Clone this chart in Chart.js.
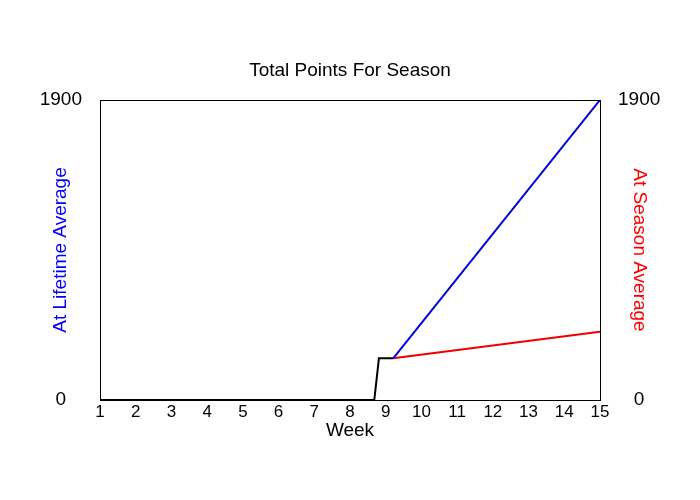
<!DOCTYPE html>
<html>
<head>
<meta charset="utf-8">
<script src="https://cdn.jsdelivr.net/npm/chart.js@4"></script>
<style>
html,body{margin:0;padding:0;background:#fff;}
#wrap{width:700px;height:500px;position:relative;}
</style>
</head>
<body>
<div id="wrap"><canvas id="c"></canvas></div>
<script>
// Data
const actualWeeks = [1, 8.68, 8.81, 9.21];
const actualPoints = [0, 0, 264, 264];
const projWeeks = [9.21, 15];
const lifetimePoints = [264, 1900];
const seasonPoints = [264, 433];
const yTickValues = [0, 1900];
const xMin = 1, xMax = 15;

const toXY = (xs, ys) => xs.map((x, i) => ({x: x, y: ys[i]}));
const FONT = "'Liberation Sans', Arial, sans-serif";

const frame = {
  id: 'frame',
  afterDatasetsDraw(chart) {
    const a = chart.chartArea, ctx = chart.ctx;
    ctx.save();
    ctx.strokeStyle = '#000';
    ctx.lineWidth = 1;
    ctx.strokeRect(Math.round(a.left) + 0.5, Math.round(a.top) + 0.5,
                   Math.round(a.right - a.left), Math.round(a.bottom - a.top));
    ctx.restore();
  }
};

function yAxis(pos, title, color) {
  return {
    type: 'linear', position: pos, min: 0, max: 1900,
    grid: {display: false, drawTicks: false},
    border: {display: false},
    afterBuildTicks: ax => { ax.ticks = yTickValues.map(v => ({value: v})); },
    afterFit: ax => { ax.width = 100; },
    ticks: {
      color: '#000', padding: 18, crossAlign: 'center',
      font: {family: FONT, size: 19},
      callback: v => String(v)
    },
    title: {
      display: true, text: title, color: color,
      font: {family: FONT, size: 19},
      padding: {top: 49, bottom: 0}
    }
  };
}

new Chart(document.getElementById('c'), {
  type: 'line',
  data: {
    datasets: [
      {label: 'At Lifetime Average', data: toXY(projWeeks, lifetimePoints),
       borderColor: '#0000dd', borderWidth: 2, pointRadius: 0, tension: 0, yAxisID: 'y'},
      {label: 'At Season Average', data: toXY(projWeeks, seasonPoints),
       borderColor: '#ee0000', borderWidth: 2, pointRadius: 0, tension: 0, yAxisID: 'y'},
      {label: 'Actual', data: toXY(actualWeeks, actualPoints),
       borderColor: '#000', borderWidth: 2, pointRadius: 0, tension: 0, yAxisID: 'y'}
    ]
  },
  options: {
    responsive: true, maintainAspectRatio: false, animation: false,
    layout: {padding: 0},
    plugins: {
      legend: {display: false},
      tooltip: {enabled: false},
      title: {
        display: true, text: 'Total Points For Season', color: '#000',
        font: {family: FONT, size: 19, weight: 'normal'},
        padding: {top: 59.6, bottom: 17.6}
      }
    },
    scales: {
      x: {
        type: 'linear', min: xMin, max: xMax,
        grid: {display: false, drawTicks: false},
        border: {display: false},
        afterFit: ax => { ax.height = 100; },
        ticks: {stepSize: 1, color: '#000', padding: 2, font: {family: FONT, size: 17}},
        title: {display: true, text: 'Week', color: '#000',
                font: {family: FONT, size: 19}, padding: {top: 0, bottom: 57.6}}
      },
      y: yAxis('left', 'At Lifetime Average', '#0000ff'),
      y2: yAxis('right', 'At Season Average', '#ff0000')
    }
  },
  plugins: [frame]
});
</script>
</body>
</html>
